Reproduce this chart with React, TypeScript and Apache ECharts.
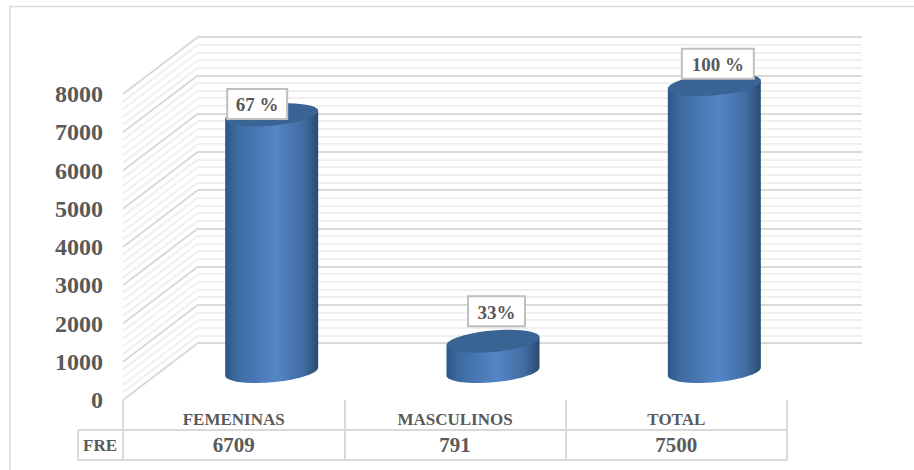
import React, { useEffect, useRef } from "react";
import * as echarts from "echarts";

const categories = ["FEMENINAS", "MASCULINOS", "TOTAL"];
const values = [6709, 791, 7500];
const percentLabels = ["67 %", "33%", "100 %"];
const rowName = "FRE";
const yMax = 8000;
const yStep = 1000;
const gridValues = [
  0, 200, 400, 600, 800, 1000, 1200, 1400, 1600, 1800, 2000, 2200, 2400, 2600, 2800, 3000, 3200, 3400, 3600, 3800,
  4000, 4200, 4400, 4600, 4800, 5000, 5200, 5400, 5600, 5800, 6000, 6200, 6400, 6600, 6800, 7000, 7200, 7400, 7600,
  7800, 8000,
];

const FONT = "'Liberation Serif', serif";
const TEXT = "#595959";
const MAJOR = "#d9d9d9";
const MINOR = "#f0f0f0";
const DEPTH_X = 75;
const DEPTH_Y = 57;
const LABEL_OFFSETS = [
  [-14, -11],
  [4, -30],
  [4, -21],
];
const LABEL_WIDTHS = [60, 57, 72];

const sideGradient = () =>
  new echarts.graphic.LinearGradient(0, 0, 1, 0, [
    { offset: 0, color: "#2b5688" },
    { offset: 0.12, color: "#3d6a9f" },
    { offset: 0.55, color: "#5486c8" },
    { offset: 0.85, color: "#3f6b9f" },
    { offset: 1, color: "#2a4a72" },
  ]);

function ellipsePoints(cx: number, cy: number, a: number, b: number, s: number, from: number, to: number) {
  const pts: number[][] = [];
  const n = 48;
  for (let i = 0; i <= n; i++) {
    const t = from + ((to - from) * i) / n;
    pts.push([cx + a * Math.cos(t), cy + b * Math.sin(t) - s * Math.cos(t)]);
  }
  return pts;
}

export default function App() {
  const ref = useRef<HTMLDivElement>(null);
  useEffect(() => {
    document.body.style.margin = "0";
    document.body.style.background = "#fff";
    const chart = echarts.init(ref.current!, undefined, { renderer: "svg" });
    const L = 123,
      W = 664,
      T = 94,
      H = 306;
    const tableLine = (x1: number, y1: number, x2: number, y2: number) => ({
      type: "line",
      shape: { x1, y1, x2, y2 },
      style: { stroke: MAJOR, lineWidth: 2 },
    });
    chart.setOption({
      animation: false,
      backgroundColor: "#fff",
      grid: [
        { left: L, top: T, width: W, height: H },
        { left: L + DEPTH_X, top: T - DEPTH_Y, width: W, height: H },
      ],
      xAxis: [
        {
          type: "category",
          gridIndex: 0,
          data: categories,
          axisLine: { show: false },
          axisTick: { show: true, length: 30, lineStyle: { color: MAJOR, width: 2 } },
          axisLabel: { margin: 11, color: TEXT, fontFamily: FONT, fontWeight: "bold", fontSize: 17 },
        },
        { type: "category", gridIndex: 1, data: categories, show: false },
      ],
      yAxis: [
        {
          type: "value",
          gridIndex: 0,
          min: 0,
          max: yMax,
          interval: yStep,
          axisLine: { show: false },
          axisTick: { show: false },
          splitLine: { show: false },
          axisLabel: {
            margin: 20,
            color: TEXT,
            fontFamily: FONT,
            fontWeight: "bold",
            fontSize: 24,
            formatter: (v: number) => String(v),
            padding: [6, 0, 0, 0],
          },
        },
        {
          type: "value",
          gridIndex: 1,
          min: 0,
          max: yMax,
          interval: yStep,
          axisLine: { show: false },
          axisTick: { show: false },
          axisLabel: { show: false },
          splitLine: { show: true, lineStyle: { color: MAJOR, width: 2 } },
          minorSplitLine: { show: true, lineStyle: { color: MINOR, width: 2 } },
          minorTick: { splitNumber: 5 },
        },
      ],
      graphic: [
        { type: "rect", shape: { x: 10, y: 6.5, width: 930, height: 480 }, style: { fill: "none", stroke: MAJOR, lineWidth: 1.5 }, z: 0 },
        tableLine(78, 430, 787, 430),
        tableLine(78, 460, 787, 460),
        tableLine(78, 430, 78, 460),
        tableLine(123, 430, 123, 460),
        tableLine(345, 430, 345, 460),
        tableLine(566, 430, 566, 460),
        tableLine(787, 430, 787, 460),
        {
          type: "text",
          x: 100,
          y: 445,
          style: { text: rowName, fill: TEXT, font: `bold 17px ${FONT}`, align: "center", verticalAlign: "middle" },
        },
      ],
      series: [
        {
          type: "custom",
          name: "sideWall",
          coordinateSystem: "cartesian2d",
          xAxisIndex: 0,
          yAxisIndex: 0,
          clip: false,
          silent: true,
          data: gridValues.map((v) => [0, v]),
          z: 1,
          renderItem: (_p: any, api: any) => {
            const v = api.value(1);
            const y = api.coord([0, v])[1];
            const major = v % yStep === 0;
            return {
              type: "line",
              shape: { x1: L, y1: y, x2: L + DEPTH_X, y2: y - DEPTH_Y },
              style: { stroke: major ? MAJOR : MINOR, lineWidth: 2 },
            };
          },
        },
        {
          type: "custom",
          name: "cylinders",
          coordinateSystem: "cartesian2d",
          xAxisIndex: 0,
          yAxisIndex: 0,
          clip: false,
          data: values.map((v, i) => [i, v]),
          encode: { x: 0, y: 1 },
          z: 3,
          renderItem: (_p: any, api: any) => {
            const i = api.value(0);
            const top = api.coord([i, api.value(1)]);
            const base = api.coord([i, 0]);
            const cx = base[0] + DEPTH_X / 2 + 0.5;
            const y0 = base[1] - DEPTH_Y / 2;
            const y1 = top[1] - DEPTH_Y / 2;
            const a = 46.5,
              b = 10.8,
              s = 4;
            const body = [[cx - a, y1 + s], ...ellipsePoints(cx, y0, a, b, s, Math.PI, 0), [cx + a, y1 - s]];
            return {
              type: "group",
              children: [
                {
                  type: "polygon",
                  shape: { points: body },
                  style: { fill: sideGradient() },
                },
                {
                  type: "polygon",
                  shape: { points: ellipsePoints(cx, y1, a, b, s, 0, Math.PI * 2) },
                  style: { fill: "#3a6494" },
                },
              ],
            };
          },
        },
        {
          type: "custom",
          name: "labels",
          coordinateSystem: "cartesian2d",
          xAxisIndex: 0,
          yAxisIndex: 0,
          clip: false,
          data: values.map((v, i) => [i, v]),
          z: 5,
          renderItem: (_p: any, api: any) => {
            const i = api.value(0);
            const top = api.coord([i, api.value(1)]);
            const base = api.coord([i, 0]);
            const cx = base[0] + DEPTH_X / 2 + LABEL_OFFSETS[i][0];
            const cy = top[1] - DEPTH_Y / 2 + LABEL_OFFSETS[i][1];
            const w = LABEL_WIDTHS[i];
            return {
              type: "group",
              children: [
                {
                  type: "rect",
                  shape: { x: cx - w / 2, y: cy - 15, width: w, height: 30 },
                  style: { fill: "#fff", stroke: "#bfbfbf", lineWidth: 2 },
                },
                {
                  type: "text",
                  x: cx,
                  y: cy + 1,
                  style: {
                    text: percentLabels[i],
                    fill: TEXT,
                    font: `bold 19px ${FONT}`,
                    align: "center",
                    verticalAlign: "middle",
                  },
                },
              ],
            };
          },
        },
        {
          type: "custom",
          name: "tableValues",
          coordinateSystem: "cartesian2d",
          xAxisIndex: 0,
          yAxisIndex: 0,
          clip: false,
          data: values.map((v, i) => [i, v]),
          z: 5,
          renderItem: (_p: any, api: any) => {
            const i = api.value(0);
            const base = api.coord([i, 0]);
            return {
              type: "text",
              x: base[0],
              y: base[1] + 45,
              style: {
                text: String(values[i]),
                fill: TEXT,
                font: `bold 21px ${FONT}`,
                align: "center",
                verticalAlign: "middle",
              },
            };
          },
        },
      ],
    });
    return () => chart.dispose();
  }, []);
  return <div ref={ref} style={{ width: 914, height: 470 }} />;
}
